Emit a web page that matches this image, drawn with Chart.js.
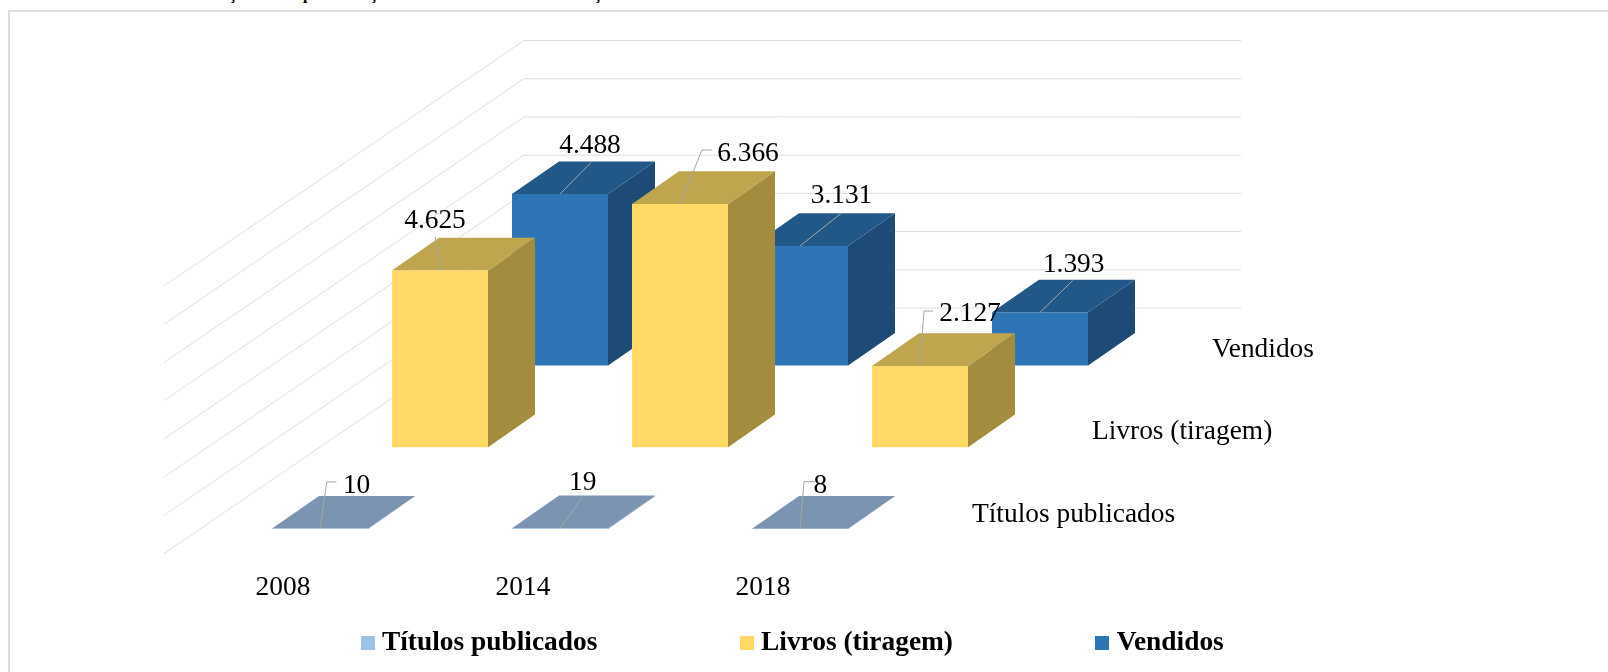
<!DOCTYPE html>
<html>
<head>
<meta charset="utf-8">
<title>Títulos publicados, Livros (tiragem), Vendidos</title>
<script src="https://cdn.jsdelivr.net/npm/chart.js@4"></script>
<style>
    html, body { margin: 0; padding: 0; background: #fff; overflow: hidden; }
    #frame { position: absolute; left: 8px; top: 10px; right: 0; bottom: 0; border-top: 2px solid #DEDEDE; border-left: 2px solid #DEDEDE; }
    .cut { position: absolute; top: -16px; font: bold 16px/20px "Liberation Serif", serif; color: #000; }
</style>
</head>
<body>
<span class="cut" style="left:229px">ç</span>
<span class="cut" style="left:303px">p</span>
<span class="cut" style="left:370px">ç</span>
<span class="cut" style="left:594px">ç</span>
<div id="frame"></div>
<canvas id="chart3d" width="1608" height="672" style="position:absolute;left:0;top:0"></canvas>
<script>
// Chart data
const categories = ['2008', '2014', '2018'];
const seriesNames = ['Títulos publicados', 'Livros (tiragem)', 'Vendidos'];
const titulosPublicados = [10, 19, 8];
const livrosTiragem = [4625, 6366, 2127];
const vendidos = [4488, 3131, 1393];
const axisMax = 7000;
const axisStep = 1000;

// Colours: front, side, top
const frontColors = ['#9DC3E6', '#FFD966', '#2E75B6'];
const sideColors = ['#6A88A6', '#A48C3F', '#1E4B75'];
const topColors = ['#7A94B2', '#BFA64E', '#225888'];

const FONT = '"Liberation Serif", "Times New Roman", serif';
const FONT_SIZE = 27.4;

// 3D look: each series sits further back on the floor
const SERIES_DX = 120;
const SERIES_DY = 81.7;
const BAR_DX = 47;
const BAR_DY = 32.7;
const WALL_X_FRONT = 164;
const WALL_X_BACK = 524;
const WALL_X_END = 1241;
const WALL_Y_FRONT = 24.5;
const WALL_Y_BACK = -221;

// Label and leader line offsets from the top centre of the front face
const labelOffsets = [
    [[36.6, -43], [22.7, -45.7], [20.4, -43]],
    [[-5, -50], [68, -50.5], [50, -52.5]],
    [[30, -48], [41.5, -50], [33.7, -47.5]]
];
const leaderOffsets = [
    [[[6.8, -46.7], [16.4, -46.7]], [[22.4, -30.7]], [[4, -47], [15, -47]]],
    [[[-5, -34]], [[22, -54], [32, -54]], [[4, -55], [13, -55]]],
    [[[30.8, -31.4]], [[41, -32.5]], [[32.7, -31.8]]]
];

function formatValue(value) {
    return String(value).replace(/\B(?=(\d{3})+$)/g, '.');
}

function legendSwatch(color) {
    const swatch = document.createElement('canvas');
    swatch.width = 14;
    swatch.height = 14;
    const g = swatch.getContext('2d');
    g.fillStyle = color;
    g.fillRect(0, 0, 14, 14);
    return swatch;
}

const walls3d = {
    id: 'walls3d',
    beforeLayout(chart) {
        if (!chart.legend.wrappedFit) {
            const fit = chart.legend.fit;
            chart.legend.fit = function () {
                fit.call(this);
                this.height = 0;
            };
            chart.legend.wrappedFit = true;
        }
    },
    afterLayout(chart) {
        // the legend gaps come from labels.padding, so its top is set by hand
        const padding = chart.options.plugins.legend.labels.padding;
        chart.legend.top = 643 - FONT_SIZE / 2 - padding;
    },
    beforeDatasetsDraw(chart) {
        const ctx = chart.ctx;
        const yScale = chart.scales.y;
        ctx.save();
        ctx.strokeStyle = '#DEDEDE';
        ctx.lineWidth = 1;
        yScale.ticks.forEach(tick => {
            const y = yScale.getPixelForValue(tick.value);
            ctx.beginPath();
            ctx.moveTo(WALL_X_FRONT, y + WALL_Y_FRONT);
            ctx.lineTo(WALL_X_BACK, y + WALL_Y_BACK);
            ctx.lineTo(WALL_X_END, y + WALL_Y_BACK);
            ctx.stroke();
        });
        ctx.restore();
    },
    beforeDatasetDraw(chart, args) {
        const ctx = chart.ctx;
        const i = args.index;
        ctx.save();
        ctx.translate(i * SERIES_DX, -i * SERIES_DY);
        args.meta.data.forEach(bar => {
            const left = bar.x - bar.width / 2;
            const right = bar.x + bar.width / 2;
            ctx.fillStyle = sideColors[i];
            ctx.beginPath();
            ctx.moveTo(right, bar.y);
            ctx.lineTo(right + BAR_DX, bar.y - BAR_DY);
            ctx.lineTo(right + BAR_DX, bar.base - BAR_DY);
            ctx.lineTo(right, bar.base);
            ctx.closePath();
            ctx.fill();
            ctx.fillStyle = topColors[i];
            ctx.beginPath();
            ctx.moveTo(left, bar.y);
            ctx.lineTo(left + BAR_DX, bar.y - BAR_DY);
            ctx.lineTo(right + BAR_DX, bar.y - BAR_DY);
            ctx.lineTo(right, bar.y);
            ctx.closePath();
            ctx.fill();
        });
    },
    afterDatasetDraw(chart) {
        chart.ctx.restore();
    },
    afterDatasetsDraw(chart) {
        const ctx = chart.ctx;
        const yScale = chart.scales.y;
        ctx.save();
        ctx.font = FONT_SIZE + 'px ' + FONT;
        ctx.textAlign = 'center';
        ctx.textBaseline = 'middle';
        chart.data.datasets.forEach((dataset, i) => {
            const shiftX = i * SERIES_DX;
            const shiftY = i * SERIES_DY;
            chart.getDatasetMeta(i).data.forEach((bar, j) => {
                const x = bar.x + shiftX;
                const y = bar.y - shiftY;
                ctx.strokeStyle = '#A6A6A6';
                ctx.lineWidth = 1;
                ctx.beginPath();
                ctx.moveTo(x, y);
                leaderOffsets[i][j].forEach(p => ctx.lineTo(x + p[0], y + p[1]));
                ctx.stroke();
                ctx.fillStyle = '#000';
                ctx.fillText(formatValue(dataset.data[j]), x + labelOffsets[i][j][0], y + labelOffsets[i][j][1]);
            });
            // series name on the depth axis
            ctx.textAlign = 'left';
            ctx.fillStyle = '#000';
            ctx.fillText(dataset.label, 972 + shiftX, yScale.getPixelForValue(0) - 14.5 - shiftY - i * 0.5);
            ctx.textAlign = 'center';
        });
        ctx.restore();
    }
};

new Chart(document.getElementById('chart3d'), {
    type: 'bar',
    data: {
        labels: categories,
        datasets: [
            { label: seriesNames[0], data: titulosPublicados, backgroundColor: frontColors[0] },
            { label: seriesNames[1], data: livrosTiragem, backgroundColor: frontColors[1] },
            { label: seriesNames[2], data: vendidos, backgroundColor: frontColors[2] }
        ]
    },
    options: {
        responsive: false,
        animation: false,
        events: [],
        layout: { padding: { top: 261.5, right: 17, bottom: 0, left: 0 } },
        datasets: {
            bar: { grouped: false, barPercentage: 0.4, categoryPercentage: 1, clip: false, borderWidth: 0 }
        },
        plugins: {
            tooltip: { enabled: false },
            title: { display: false },
            legend: {
                display: true,
                position: 'bottom',
                labels: {
                    padding: 149,
                    color: '#000',
                    usePointStyle: true,
                    pointStyleWidth: 1,
                    font: { family: FONT, size: FONT_SIZE, weight: 'bold' },
                    generateLabels: chart => chart.data.datasets.map((dataset, i) => ({
                        text: dataset.label,
                        fillStyle: frontColors[i],
                        strokeStyle: frontColors[i],
                        lineWidth: 0,
                        pointStyle: legendSwatch(frontColors[i]),
                        datasetIndex: i
                    }))
                }
            }
        },
        scales: {
            x: {
                grid: { display: false, drawTicks: false },
                border: { display: false },
                afterFit: scale => { scale.height = 143; },
                ticks: {
                    color: '#000',
                    font: { family: FONT, size: FONT_SIZE },
                    maxRotation: 0,
                    padding: 42,
                    labelOffset: -37
                }
            },
            y: {
                position: 'left',
                min: 0,
                max: axisMax,
                afterFit: scale => { scale.width = 200; },
                grid: { display: false },
                border: { display: false },
                ticks: { display: false, stepSize: axisStep }
            },
            yRight: {
                axis: 'y',
                position: 'right',
                afterFit: scale => { scale.width = 671; },
                grid: { display: false },
                border: { display: false },
                ticks: { display: false }
            }
        }
    },
    plugins: [walls3d]
});
</script>
</body>
</html>
